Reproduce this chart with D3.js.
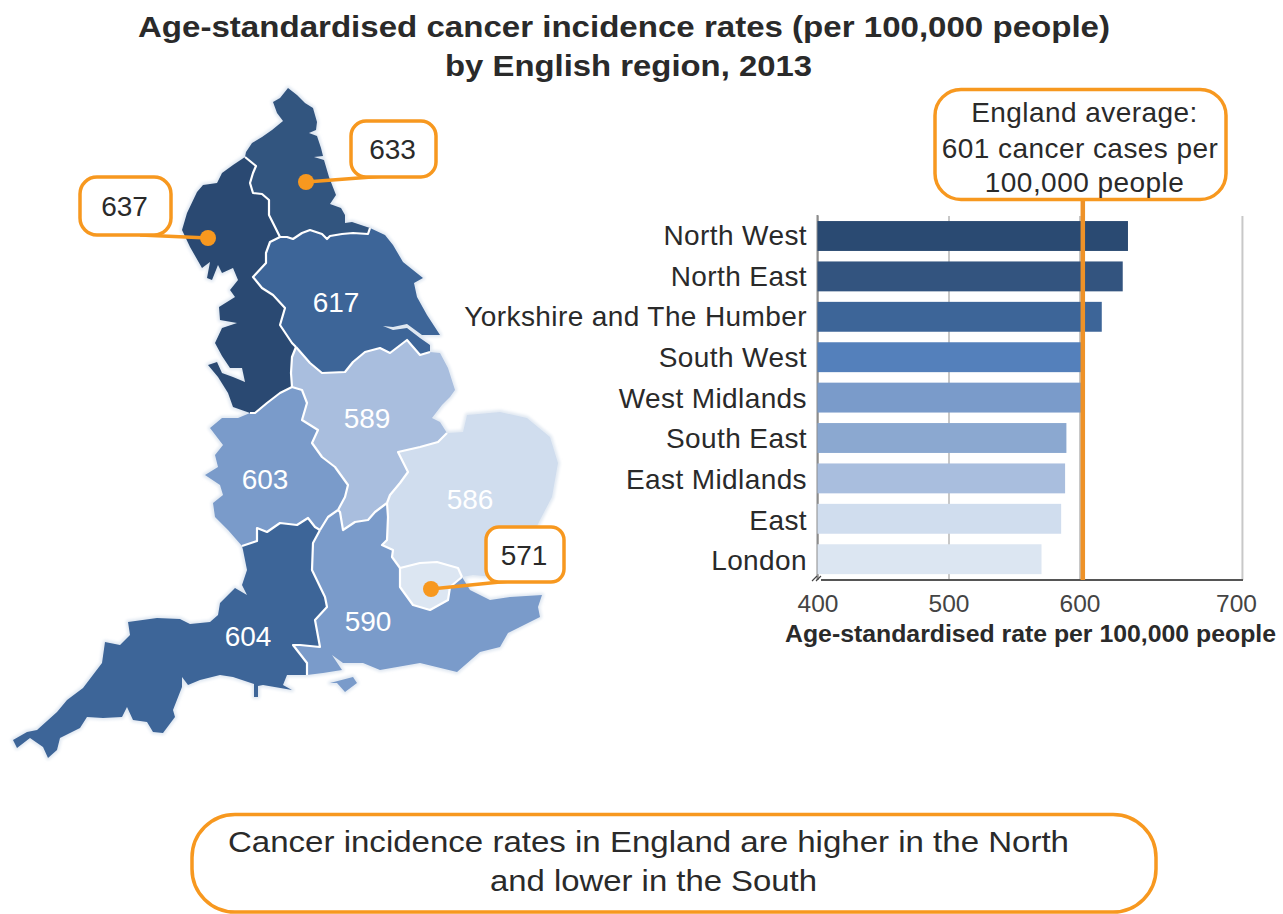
<!DOCTYPE html>
<html><head><meta charset="utf-8">
<script src="https://cdn.jsdelivr.net/npm/d3@7"></script>
<style>
html,body{margin:0;padding:0;background:#fff;overflow:hidden}
svg{display:block}
text{font-family:"Liberation Sans",Arial,sans-serif;fill:#2a2a2a}
</style></head><body>
<svg id="c" width="1283" height="914">
<defs>
<filter id="soft" x="-5%" y="-5%" width="110%" height="110%"><feGaussianBlur stdDeviation="0.45"/></filter>
<filter id="glow" x="-5%" y="-5%" width="110%" height="110%"><feGaussianBlur stdDeviation="1.4"/></filter>
</defs>
</svg>
<script>
// ---------- chart data ----------
const categories = ["North West","North East","Yorkshire and The Humber","South West","West Midlands","South East","East Midlands","East","London"];
const rates = [637,633,617,604,603,590,589,586,571];
const barColors = ["#2a4a72","#33547f","#3d6598","#5480bb","#7a9bca","#8ba8d0","#a9bede","#d0ddee","#dce6f2"];
const englandAverage = 601;
// the reference's last gridline is drawn further out than its label implies
const gridValues = [400,500,600,724];
const tickLabels = ["400","500","600","700"];
const titleLines = ["Age-standardised cancer incidence rates (per 100,000 people)","by English region, 2013"];
const avgLines = ["England average:","601 cancer cases per","100,000 people"];
const noteLines = ["Cancer incidence rates in England are higher in the North","and lower in the South"];
const axisTitle = "Age-standardised rate per 100,000 people";

// ---------- map outlines ----------
const bNWNE=[[280,237],[273,223],[269,215],[269,200],[262,194],[253,193],[250,183],[253,173],[256,166],[245,157]];
const bNEYH=[[370,228],[368,234],[353,233],[342,234],[330,236],[327,239],[322,234],[310,230],[302,233],[293,239],[287,237],[280,237]];
const bNWYH=[[280,237],[270,242],[266,253],[266,263],[253,277],[262,288],[273,295],[285,308],[280,325],[292,343],[296,347]];
const bNWEM=[[296,347],[292,357],[291,373],[292,387]];
const bNWWM=[[292,387],[280,393],[267,403],[255,413],[250,413]];
const bYHEM=[[296,347],[310,363],[322,373],[345,372],[353,362],[365,352],[380,348],[390,353],[407,340],[420,355],[430,352]];
const bEME=[[447,433],[438,442],[420,447],[398,452],[402,460],[408,472],[400,483],[390,495],[387,503]];
const bEMSE=[[387,503],[375,512],[368,520],[355,522],[343,530],[340,512],[338,510]];
const bEMWM=[[338,510],[345,497],[348,485],[335,467],[322,457],[312,443],[318,430],[302,420],[307,403],[302,390],[292,387]];
const bWMSW=[[242,546],[257,541],[257,528],[267,532],[280,523],[297,525],[308,518],[315,527],[320,530]];
const bWMSE=[[320,530],[328,517],[338,510]];
const bSWSE=[[320,530],[313,543],[312,570],[325,597],[327,607],[315,620],[320,647],[300,645],[293,645],[307,663],[307,675]];
const bSEE=[[387,503],[388,517],[387,540],[382,545],[393,550],[392,557],[400,568]];
const bLonE=[[400,568],[420,563],[437,562],[458,568],[462,577]];
const bLonSE=[[462,577],[450,587],[448,600],[430,610],[413,605],[400,587],[400,568]];

const coastNE=[[245,157],[246,152],[252,143],[262,137],[272,130],[283,121],[277,113],[273,102],[280,98],[288,88],[297,95],[305,103],[313,108],[317,122],[316,130],[309,133],[317,136],[321,148],[323,156],[314,157],[324,160],[329,177],[336,195],[330,204],[341,208],[345,215],[345,223],[352,222],[370,228]];
const coastNW=[[250,413],[233,407],[228,393],[218,377],[208,365],[217,362],[222,373],[233,377],[245,382],[242,368],[230,368],[222,356],[215,343],[222,328],[237,323],[220,320],[219,307],[235,297],[230,290],[238,280],[233,268],[222,273],[218,265],[212,280],[207,278],[210,262],[202,268],[190,247],[182,230],[187,213],[197,192],[203,185],[217,183],[222,173],[233,165],[245,157]];
const coastYH=[[370,228],[385,235],[393,245],[403,262],[423,278],[414,283],[417,297],[427,315],[440,335],[422,335],[407,324],[393,327],[383,326],[393,330],[407,328],[420,338],[430,345],[430,352]];
const coastEM=[[430,352],[440,353],[448,368],[455,390],[450,397],[442,405],[432,418],[440,422],[447,433]];
const coastE=[[447,433],[463,432],[467,415],[500,412],[527,418],[550,437],[558,463],[552,497],[540,520],[535,530],[510,572],[493,577],[473,575],[462,577]];
const coastSE=[[462,577],[470,590],[490,600],[510,597],[542,595],[538,607],[540,617],[520,627],[508,633],[500,647],[480,652],[457,672],[420,663],[380,670],[363,663],[343,663],[332,655],[342,670],[323,673],[307,675]];
const coastSW=[[307,675],[287,675],[283,685],[292,690],[263,685],[258,686],[258,697],[254,697],[254,684],[233,677],[220,675],[200,680],[188,685],[182,677],[182,687],[173,710],[175,717],[163,733],[153,732],[147,722],[133,720],[127,707],[122,717],[103,718],[87,717],[80,728],[60,738],[57,750],[48,758],[43,747],[30,738],[17,748],[13,740],[27,732],[37,730],[57,712],[67,700],[83,688],[102,663],[105,642],[120,645],[130,635],[128,622],[157,618],[180,619],[190,624],[210,622],[218,615],[220,603],[235,588],[247,595],[242,585],[247,570],[243,550],[242,546]];
const coastWM=[[250,413],[238,418],[222,418],[210,428],[223,445],[215,455],[218,467],[205,475],[220,485],[223,495],[213,503],[215,517],[228,530],[242,546]];
const wight=[[330,683],[353,677],[357,683],[345,692],[337,683]];
const rev=a=>a.slice().reverse();

const regionShapes=[
  [...bWMSW,...bSWSE,...coastSW],
  [...rev(bNWWM),...rev(bEMWM),...rev(bWMSE),...rev(bWMSW),...rev(coastWM)],
  [...bEMSE,...rev(bWMSE),...bSWSE,...rev(coastSE),...rev(bLonSE),...rev(bSEE)],
  [...bNWEM,...rev(bEMWM),...rev(bEMSE),...rev(bEME),...rev(coastEM),...rev(bYHEM)],
  [...bEME,...bSEE,...bLonE,...rev(coastE)],
  [...bLonE,...bLonSE],
  [...coastYH,...rev(bYHEM),...rev(bNWYH),...rev(bNEYH)],
  [...coastNE,...bNEYH,...bNWNE],
  [...rev(bNWNE),...bNWYH,...bNWEM,...bNWWM,...coastNW],
  wight
];
const regionColors=["#3d6598","#7a9bca","#7a9bca","#a9bede","#d0ddee","#dce6f2","#3d6598","#33547f","#2a4a72","#7a9bca"];
const mapLabels=["617","589","603","586","590","604"];
const mapLabelPos=[[336,302],[367,418],[265,479],[470,499],[368,621],[248,636]];
const callouts=[
 {value:"637",box:[80,177,91,58],r:17,dot:[208,238],from:[140,235]},
 {value:"633",box:[351,121,85,56],r:15,dot:[306,182],from:[385,176]},
 {value:"571",box:[486,527,78,55],r:13,dot:[431,589],from:[510,581]}
];

// ---------- drawing ----------
const ORANGE="#f7981f";
const svg=d3.select("#c");

// title
svg.append("g").selectAll("text").data(titleLines).join("text")
  .attr("x",(d,i)=>i?628.5:624).attr("y",(d,i)=>37+i*39)
  .attr("text-anchor","middle").attr("font-size",30).attr("font-weight","bold")
  .attr("textLength",(d,i)=>i?367:972).attr("lengthAdjust","spacingAndGlyphs").text(d=>d);

// map
const line=d3.line().curve(d3.curveLinear);
svg.append("g").attr("filter","url(#glow)").selectAll("path").data(regionShapes).join("path")
  .attr("d",d=>line(d)+"Z").attr("fill","none").attr("stroke","#dfe7f1").attr("stroke-width",4).attr("stroke-linejoin","round");
const map=svg.append("g").attr("filter","url(#soft)");
map.selectAll("path.region").data(regionShapes).join("path").attr("class","region")
  .attr("d",d=>line(d)+"Z").attr("fill",(d,i)=>regionColors[i]);
map.selectAll("path.border").data([bNWNE,bNEYH,bNWYH,bNWEM,bNWWM,bYHEM,bEME,bEMSE,bEMWM,bWMSW,bWMSE,bSWSE,bSEE,bLonE,bLonSE]).join("path").attr("class","border")
  .attr("d",d=>line(d)).attr("fill","none").attr("stroke","#fff").attr("stroke-width",2.2).attr("stroke-linejoin","round");
svg.append("g").selectAll("text").data(mapLabels).join("text")
  .attr("x",(d,i)=>mapLabelPos[i][0]).attr("y",(d,i)=>mapLabelPos[i][1]+10)
  .attr("text-anchor","middle").attr("font-size",28).style("fill","#fff").text(d=>d);

// callouts on the map
const cg=svg.append("g").selectAll("g").data(callouts).join("g");
cg.append("line").attr("x1",d=>d.from[0]).attr("y1",d=>d.from[1]).attr("x2",d=>d.dot[0]).attr("y2",d=>d.dot[1])
  .attr("stroke",ORANGE).attr("stroke-width",3.5);
cg.append("rect").attr("x",d=>d.box[0]).attr("y",d=>d.box[1]).attr("width",d=>d.box[2]).attr("height",d=>d.box[3])
  .attr("rx",d=>d.r).attr("fill","#fff").attr("stroke",ORANGE).attr("stroke-width",3.5);
cg.append("circle").attr("cx",d=>d.dot[0]).attr("cy",d=>d.dot[1]).attr("r",8).attr("fill",ORANGE);
cg.append("text").attr("x",d=>d.box[0]+d.box[2]/2-1).attr("y",d=>d.box[1]+d.box[3]/2+10)
  .attr("text-anchor","middle").attr("font-size",28).text(d=>d.value);

// bar chart
const x=d3.scaleLinear().domain([400,600]).range([817.5,1079.5]);
const y=d3.scaleBand().domain(categories).range([215.8,579.4]).paddingInner(0.26).paddingOuter(0.13);
const gridAxis=d3.axisBottom(x).tickValues(gridValues).tickSize(-364).tickSizeOuter(0)
  .tickPadding(15).tickFormat((d,i)=>tickLabels[i]);
const ax=svg.append("g").attr("transform","translate(0,580)").call(gridAxis);
ax.select(".domain").remove();
ax.selectAll(".tick line").attr("stroke","#c8c8c8").attr("stroke-width",2);
ax.selectAll(".tick text").attr("font-size",24.5).attr("font-family",null).style("fill","#444")
  .attr("dx",(d,i)=>i===3?-6:0);
svg.append("line").attr("x1",x(400)).attr("x2",x(400)).attr("y1",215).attr("y2",580).attr("stroke","#8c8c8c").attr("stroke-width",2);

svg.append("g").selectAll("rect").data(categories).join("rect")
  .attr("x",x(400)).attr("y",d=>y(d)).attr("height",y.bandwidth())
  .attr("width",(d,i)=>x(rates[i])-x(400)).attr("fill",(d,i)=>barColors[i]);

const ay=svg.append("g").attr("transform","translate(817,0)")
  .call(d3.axisLeft(y).tickSize(0).tickPadding(10));
ay.select(".domain").remove();
ay.selectAll("text").attr("font-size",28).attr("font-family",null).style("letter-spacing","0.4px")
  .attr("dy",(d,i)=>(0.32*28+i*0.28)+"px");

// axis baseline with break mark
svg.append("line").attr("x1",821).attr("x2",1243).attr("y1",580).attr("y2",580).attr("stroke","#555").attr("stroke-width",2);
svg.append("path").attr("d","M812,581L817,576M816,581L821,576").attr("stroke","#444").attr("stroke-width",1.2).attr("fill","none");

// England average
svg.append("line").attr("x1",x(englandAverage)+2).attr("x2",x(englandAverage)+2).attr("y1",198).attr("y2",580)
  .attr("stroke","#ee9228").attr("stroke-width",4.5);
svg.append("rect").attr("x",935).attr("y",89.5).attr("width",291).attr("height",110).attr("rx",26)
  .attr("fill","#fff").attr("stroke",ORANGE).attr("stroke-width",3.5);
svg.append("g").selectAll("text").data(avgLines).join("text")
  .attr("x",(d,i)=>[1084.5,1080,1084.5][i]).attr("y",(d,i)=>[122,158,192][i])
  .attr("text-anchor","middle").attr("font-size",28).style("letter-spacing","0.45px").text(d=>d);

svg.append("text").attr("x",1030.5).attr("y",642).attr("text-anchor","middle")
  .attr("font-size",23).attr("font-weight","bold")
  .attr("textLength",491).attr("lengthAdjust","spacingAndGlyphs").text(axisTitle);

// bottom note
svg.append("rect").attr("x",192).attr("y",814.5).attr("width",964).attr("height",97.5).attr("rx",43)
  .attr("fill","#fff").attr("stroke",ORANGE).attr("stroke-width",3.5);
svg.append("g").selectAll("text").data(noteLines).join("text")
  .attr("x",(d,i)=>i?653.5:648.5).attr("y",(d,i)=>852+i*38.5)
  .attr("text-anchor","middle").attr("font-size",30)
  .attr("textLength",(d,i)=>i?327:841).attr("lengthAdjust","spacingAndGlyphs").text(d=>d);
</script>
</body></html>
